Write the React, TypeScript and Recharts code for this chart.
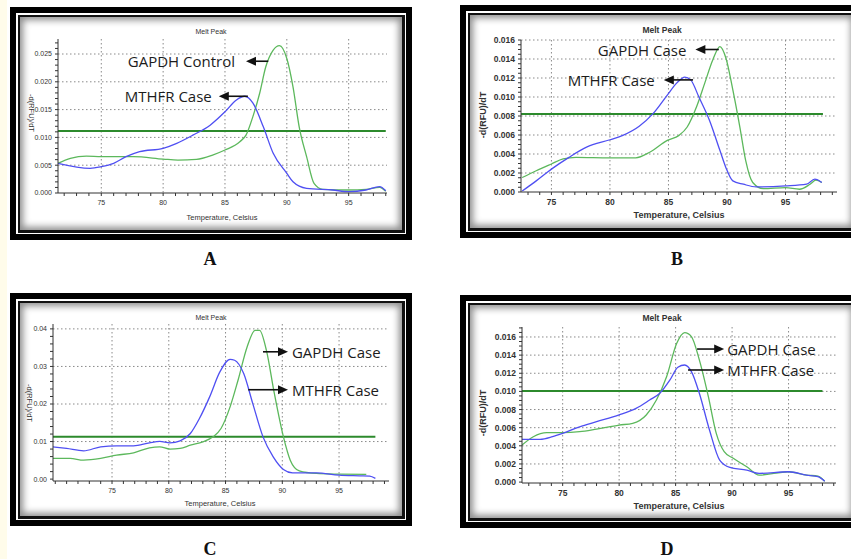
import { LineChart, Line, XAxis, YAxis, CartesianGrid, ReferenceLine } from 'recharts';

type Pair = [number, number];

// temperature (deg C) vs -d(RFU)/dT
const A_GAPDH: Pair[] = [
  [71.5, 0.00534], [72.5, 0.00624], [73.8, 0.00665], [75, 0.00653], [77.6, 0.00653], [80, 0.00611],
  [81.2, 0.00593], [82.7, 0.00606], [84.0, 0.00683], [85, 0.00773], [86.2, 0.00923], [86.7, 0.0104],
  [87.25, 0.0137], [87.8, 0.0179], [88.3, 0.0227], [88.9, 0.0257], [89.4, 0.0265], [90.0, 0.0242],
  [90.5, 0.0191], [91.0, 0.0119], [91.6, 0.00653], [92.2, 0.00174], [92.9, 0.00066], [95, 0.00054],
  [96.4, 0.00066], [97.5, 0.00102], [98.0, 0.0003],
];
const A_MTHFR: Pair[] = [
  [71.5, 0.00534], [74.1, 0.00444], [75, 0.00473], [76, 0.00534], [77, 0.00653], [78.1, 0.00743],
  [80, 0.00804], [81.1, 0.00894], [82.4, 0.0104], [83.8, 0.0122], [85, 0.0146], [85.9, 0.0167],
  [86.6, 0.0174], [87.25, 0.0162], [88.1, 0.0119], [88.9, 0.00714], [90, 0.00354], [90.5, 0.00203],
  [91.6, 0.00085], [93.7, 0.00054], [95, 0.00024], [96.4, 0.00054], [97.5, 0.00114], [98.0, 0.0004],
];
const B_GAPDH: Pair[] = [
  [72.5, 0.00152], [73.7, 0.00224], [75, 0.00295], [76, 0.00348], [77.1, 0.00365], [80, 0.00359],
  [82.2, 0.00359], [83.4, 0.00418], [84.9, 0.00543], [85.9, 0.00596], [86.6, 0.00684], [87.4, 0.00897],
  [88.1, 0.01146], [88.8, 0.01395], [89.4, 0.0153], [89.9, 0.01413], [90.5, 0.01075], [91.1, 0.00684],
  [91.6, 0.0033], [92.2, 0.001], [93.1, 0.00035], [95, 0.00046], [96.2, 0.00029], [97.1, 0.00082],
  [97.6, 0.00124], [98.1, 0.001],
];
const B_MTHFR: Pair[] = [
  [72.5, 0.0001], [73.7, 0.00117], [75, 0.00241], [76.5, 0.00365], [78, 0.00472], [80, 0.0055],
  [81.1, 0.00596], [82.5, 0.00692], [83.7, 0.00827], [84.9, 0.0102], [85.7, 0.01146], [86.4, 0.0121],
  [86.9, 0.0118], [87.6, 0.01], [88.5, 0.00756], [89.4, 0.00436], [89.9, 0.00259], [90.5, 0.00117],
  [91.4, 0.00082], [92.5, 0.00053], [95, 0.00064], [96.8, 0.00082], [97.5, 0.00135], [98.1, 0.001],
];
const C_GAPDH: Pair[] = [
  [69.8, 0.0055], [71.3, 0.0055], [72.5, 0.00505], [74, 0.0055], [75.4, 0.00638], [76.9, 0.007],
  [78.3, 0.00833], [79.2, 0.0086], [80.1, 0.00798], [81, 0.00816], [81.9, 0.00904], [83, 0.00992],
  [83.9, 0.01125], [84.6, 0.01348], [85.4, 0.01923], [86.1, 0.02633], [86.9, 0.0352], [87.6, 0.0396],
  [88, 0.0396], [88.6, 0.0343], [89.3, 0.0228], [90.1, 0.01125], [90.7, 0.00505], [91.5, 0.0022],
  [93, 0.00151], [95, 0.00133], [97.4, 0.00124],
];
const C_MTHFR: Pair[] = [
  [69.8, 0.0086], [71, 0.00816], [72.5, 0.00754], [74, 0.0086], [75.4, 0.00886], [76.9, 0.00886],
  [78.3, 0.00966], [79.2, 0.01003], [80.1, 0.00966], [81, 0.0102], [81.9, 0.01215], [82.7, 0.01614],
  [83.6, 0.0219], [84.5, 0.02854], [85.4, 0.0319], [85.8, 0.03165], [86.6, 0.0281], [87.4, 0.0201],
  [88.3, 0.01125], [89.2, 0.00593], [90.1, 0.00258], [90.9, 0.00168], [93, 0.00168], [95, 0.00106],
  [96.8, 0.00088], [97.7, 0.0008], [98.2, 0.0002],
];
const D_GAPDH: Pair[] = [
  [71.4, 0.00408], [72.4, 0.005], [73.6, 0.00545], [75, 0.00545], [76.5, 0.00556], [78, 0.00585],
  [80, 0.00629], [81.2, 0.00648], [82.4, 0.0074], [83.3, 0.00905], [84.2, 0.01162], [85.1, 0.01531],
  [85.8, 0.01648], [86.4, 0.01604], [87.1, 0.01347], [87.9, 0.00942], [88.6, 0.00537], [89.3, 0.00335],
  [90.1, 0.00262], [91.3, 0.00169], [92.4, 0.00077], [95, 0.00114], [96.6, 0.00077], [97.6, 0.00066],
  [98.2, 0.0001],
];
const D_MTHFR: Pair[] = [
  [71.4, 0.00471], [73, 0.00471], [74.1, 0.005], [75, 0.00537], [76.5, 0.0061], [78, 0.00666],
  [80, 0.0074], [81.5, 0.00813], [82.7, 0.00905], [83.6, 0.00979], [84.5, 0.01126], [85.2, 0.01266],
  [85.8, 0.01291], [86.4, 0.01218], [87.1, 0.00979], [88, 0.00574], [88.9, 0.00243], [89.8, 0.00162],
  [91.3, 0.00132], [92.4, 0.00096], [95, 0.00114], [96.6, 0.00077], [97.6, 0.00059], [98.2, 0.0001],
];

const X_TICKS = [75, 80, 85, 90, 95];
const A_Y_TICKS = [0, 0.005, 0.01, 0.015, 0.02, 0.025];
const BD_Y_TICKS = [0, 0.002, 0.004, 0.006, 0.008, 0.01, 0.012, 0.014, 0.016];
const C_Y_TICKS = [0, 0.01, 0.02, 0.03, 0.04];

const THRESHOLDS = { A: 0.01115, B: 0.0082, C: 0.0113, D: 0.01004 };
const PANEL_LETTERS = ['A', 'B', 'C', 'D'];

const TITLE = 'Melt Peak';
const X_LABEL = 'Temperature, Celsius';
const Y_LABEL = '-d(RFU)/dT';

const GREEN = '#5cb85c';
const BLUE = '#4f4ff2';
const THRESH = '#2c8a2c';
const AXIS_FONT = '"Liberation Sans", Arial, sans-serif';

type Note = { text: string; from: Pair; to: Pair; gap: number };

const toRows = (p: Pair[]) => p.map(([t, v]) => ({ t, v }));

function steps(lo: number, hi: number, step: number) {
  const out: number[] = [];
  const n0 = Math.ceil(lo / step - 1e-6);
  const n1 = Math.floor(hi / step + 1e-6);
  for (let i = n0; i <= n1; i++) out.push(+(i * step).toFixed(6));
  return out;
}

function arrowShape(text: string, gap: number) {
  return (p: any) => {
    const { x1, y1, x2, y2 } = p;
    if (x1 == null || x2 == null) return <g />;
    const dir = x2 < x1 ? -1 : 1;
    const len = 10;
    const hw = 4.5;
    return (
      <g>
        <line x1={x1} y1={y1} x2={x2 - dir * (len - 1)} y2={y2} stroke="#111" strokeWidth={1.6} />
        <polygon
          points={`${x2},${y2} ${x2 - dir * len},${y2 - hw} ${x2 - dir * len},${y2 + hw}`}
          fill="#111"
        />
        <text
          x={x2 + dir * gap}
          y={y2}
          textAnchor={dir < 0 ? 'end' : 'start'}
          dominantBaseline="central"
          fontFamily='"Open Sans", sans-serif'
          fontSize={15}
          fill="#1c1c1c"
        >
          {text}
        </text>
      </g>
    );
  };
}

interface PanelProps {
  frame: [number, number, number, number];
  plot: [number, number, number, number];
  xDomain: [number, number];
  yDomain: [number, number];
  yMajor: number[];
  yMinor: number;
  digits: number;
  threshold: number;
  thresholdEnd: number;
  green: Pair[];
  blue: Pair[];
  notes: Note[];
  bold: boolean;
  fontSize: number;
  titleAt: [number, number];
  xLabelAt: [number, number];
  yLabelAt: [number, number];
  flipY: boolean;
}

function Frame({ box }: { box: [number, number, number, number] }) {
  const [l, t, w, h] = box;
  const fill = { width: '100%', height: '100%', boxSizing: 'border-box' as const };
  return (
    <div style={{ position: 'absolute', left: l, top: t, width: w, height: h, background: '#000', padding: 6, boxSizing: 'border-box' }}>
      <div style={{ ...fill, background: '#fff', padding: 1.5 }}>
        <div style={{ ...fill, background: '#111', padding: 2.5 }}>
          <div style={{ ...fill, background: '#fff', boxShadow: 'inset 0 0 7px 3px #8c8c8c' }} />
        </div>
      </div>
    </div>
  );
}

function Panel(p: PanelProps) {
  const [pl, pt, pw, ph] = p.plot;
  const ML = 60;
  const MT = 10;
  const xMinor = steps(p.xDomain[0], p.xDomain[1], 1);
  const yMinor = steps(Math.max(0, p.yDomain[0]), p.yDomain[1], p.yMinor);
  const isMajor = (v: number, list: number[], tol: number) => list.some((m) => Math.abs(m - v) < tol);
  const weight = p.bold ? 700 : 400;
  const label = (at: [number, number], text: string, size: number, rot = 0) => (
    <div
      style={{
        position: 'absolute',
        left: at[0],
        top: at[1],
        transform: `translate(-50%, -50%) rotate(${rot}deg)`,
        fontFamily: AXIS_FONT,
        fontSize: size,
        fontWeight: weight,
        color: '#333',
        whiteSpace: 'nowrap',
      }}
    >
      {text}
    </div>
  );
  const tickStyle = { fontSize: p.fontSize, fill: '#333', fontFamily: AXIS_FONT, fontWeight: weight };
  return (
    <>
      <Frame box={p.frame} />
      {label(p.titleAt, TITLE, p.fontSize)}
      {label(p.xLabelAt, X_LABEL, p.fontSize + 0.5)}
      {label(p.yLabelAt, Y_LABEL, p.fontSize + 0.5, p.flipY ? 90 : -90)}
      <div style={{ position: 'absolute', left: pl - ML, top: pt - MT }}>
        <LineChart width={pw + ML + 10} height={ph + MT + 30} margin={{ top: MT, right: 10, bottom: 0, left: 0 }}>
          <CartesianGrid
            xAxisId="b"
            yAxisId="l"
            stroke="#8a8a8a"
            strokeDasharray="1.5 2.5"
            horizontalValues={p.yMajor.filter((v) => v > 0)}
            verticalValues={X_TICKS}
          />
          <XAxis
            xAxisId="b"
            dataKey="t"
            type="number"
            domain={p.xDomain}
            ticks={xMinor}
            interval={0}
            allowDataOverflow
            height={30}
            tickSize={3}
            tickMargin={4}
            stroke="#333"
            tick={tickStyle}
            tickFormatter={(v: number) => (isMajor(v, X_TICKS, 0.01) ? String(v) : '')}
          />
          <XAxis
            xAxisId="top"
            orientation="top"
            dataKey="t"
            type="number"
            domain={p.xDomain}
            ticks={xMinor}
            interval={0}
            allowDataOverflow
            height={0}
            tickSize={2}
            tick={false}
            stroke="#333"
          />
          <YAxis
            yAxisId="l"
            type="number"
            domain={p.yDomain}
            ticks={yMinor}
            interval={0}
            allowDataOverflow
            width={ML}
            tickSize={3}
            tickMargin={3}
            stroke="#333"
            tick={tickStyle}
            tickFormatter={(v: number) => (isMajor(v, p.yMajor, p.yMinor / 10) ? v.toFixed(p.digits) : '')}
          />
          <YAxis
            yAxisId="r"
            orientation="right"
            type="number"
            domain={p.yDomain}
            ticks={yMinor}
            interval={0}
            allowDataOverflow
            width={0}
            tickSize={2}
            tick={false}
            stroke="#333"
          />
          <ReferenceLine
            xAxisId="b"
            yAxisId="l"
            segment={[{ x: p.xDomain[0], y: p.threshold }, { x: p.thresholdEnd, y: p.threshold }]}
            stroke={THRESH}
            strokeWidth={2}
          />
          <Line xAxisId="b" yAxisId="l" data={toRows(p.green)} dataKey="v" type="monotone" stroke={GREEN} strokeWidth={1.3} dot={false} isAnimationActive={false} />
          <Line xAxisId="b" yAxisId="l" data={toRows(p.blue)} dataKey="v" type="monotone" stroke={BLUE} strokeWidth={1.3} dot={false} isAnimationActive={false} />
          {p.notes.map((n, i) => (
            <ReferenceLine
              key={i}
              xAxisId="b"
              yAxisId="l"
              segment={[{ x: n.from[0], y: n.from[1] }, { x: n.to[0], y: n.to[1] }]}
              shape={arrowShape(n.text, n.gap)}
            />
          ))}
        </LineChart>
      </div>
    </>
  );
}

const letterStyle = (x: number, y: number) => ({
  position: 'absolute' as const,
  left: x,
  top: y,
  transform: 'translate(-50%, -50%)',
  fontFamily: '"Liberation Serif", "DejaVu Serif", serif',
  fontWeight: 700,
  fontSize: 18,
  color: '#111',
});

export default function App() {
  return (
    <div style={{ position: 'absolute', left: 0, top: 0, width: 851, height: 559, overflow: 'hidden', background: '#fff' }}>
      <div style={{ position: 'absolute', left: 0, top: 0, width: 7, height: 559, background: '#fffcea' }} />
      <Panel
        frame={[10, 7, 402, 233]}
        plot={[58, 39, 329, 154]}
        xDomain={[71.5, 98.1]}
        yDomain={[0, 0.0277]}
        yMajor={A_Y_TICKS}
        yMinor={0.001}
        digits={3}
        threshold={THRESHOLDS.A}
        thresholdEnd={98.0}
        green={A_GAPDH}
        blue={A_MTHFR}
        notes={[
          { text: 'GAPDH Control', from: [88.5, 0.0237], to: [86.7, 0.0237], gap: 11 },
          { text: 'MTHFR Case', from: [86.85, 0.0174], to: [84.5, 0.0174], gap: 7 },
        ]}
        bold={false}
        fontSize={7}
        titleAt={[211, 31]}
        xLabelAt={[222, 217]}
        yLabelAt={[31, 113]}
        flipY
      />
      <Panel
        frame={[460, 5, 404, 233]}
        plot={[521, 40, 316, 152]}
        xDomain={[72.4, 99.4]}
        yDomain={[0, 0.016]}
        yMajor={BD_Y_TICKS}
        yMinor={0.0005}
        digits={3}
        threshold={THRESHOLDS.B}
        thresholdEnd={98.2}
        green={B_GAPDH}
        blue={B_MTHFR}
        notes={[
          { text: 'GAPDH Case', from: [89.3, 0.015], to: [87.3, 0.015], gap: 9 },
          { text: 'MTHFR Case', from: [87.1, 0.0118], to: [84.6, 0.0118], gap: 9 },
        ]}
        bold
        fontSize={8.5}
        titleAt={[662, 30]}
        xLabelAt={[679, 215]}
        yLabelAt={[483, 115]}
        flipY={false}
      />
      <Panel
        frame={[10, 293, 402, 233]}
        plot={[53, 324, 336, 157]}
        xDomain={[69.8, 99.4]}
        yDomain={[-0.0005, 0.0413]}
        yMajor={C_Y_TICKS}
        yMinor={0.002}
        digits={2}
        threshold={THRESHOLDS.C}
        thresholdEnd={98.2}
        green={C_GAPDH}
        blue={C_MTHFR}
        notes={[
          { text: 'GAPDH Case', from: [88.3, 0.0339], to: [90.5, 0.0339], gap: 4 },
          { text: 'MTHFR Case', from: [87.0, 0.0238], to: [90.5, 0.0238], gap: 4 },
        ]}
        bold={false}
        fontSize={7}
        titleAt={[211, 317]}
        xLabelAt={[220, 503]}
        yLabelAt={[29, 403]}
        flipY
      />
      <Panel
        frame={[460, 295, 404, 233]}
        plot={[522, 327, 314, 156]}
        xDomain={[71.4, 99.2]}
        yDomain={[-0.0001, 0.0171]}
        yMajor={BD_Y_TICKS}
        yMinor={0.0005}
        digits={3}
        threshold={THRESHOLDS.D}
        thresholdEnd={98.0}
        green={D_GAPDH}
        blue={D_MTHFR}
        notes={[
          { text: 'GAPDH Case', from: [86.9, 0.01467], to: [89.3, 0.01467], gap: 3 },
          { text: 'MTHFR Case', from: [86.1, 0.01236], to: [89.3, 0.01236], gap: 3 },
        ]}
        bold
        fontSize={8.5}
        titleAt={[662, 318]}
        xLabelAt={[679, 506]}
        yLabelAt={[483, 413]}
        flipY={false}
      />
      <div style={letterStyle(210, 259)}>{PANEL_LETTERS[0]}</div>
      <div style={letterStyle(677, 259)}>{PANEL_LETTERS[1]}</div>
      <div style={letterStyle(210, 549)}>{PANEL_LETTERS[2]}</div>
      <div style={letterStyle(667, 549)}>{PANEL_LETTERS[3]}</div>
    </div>
  );
}
